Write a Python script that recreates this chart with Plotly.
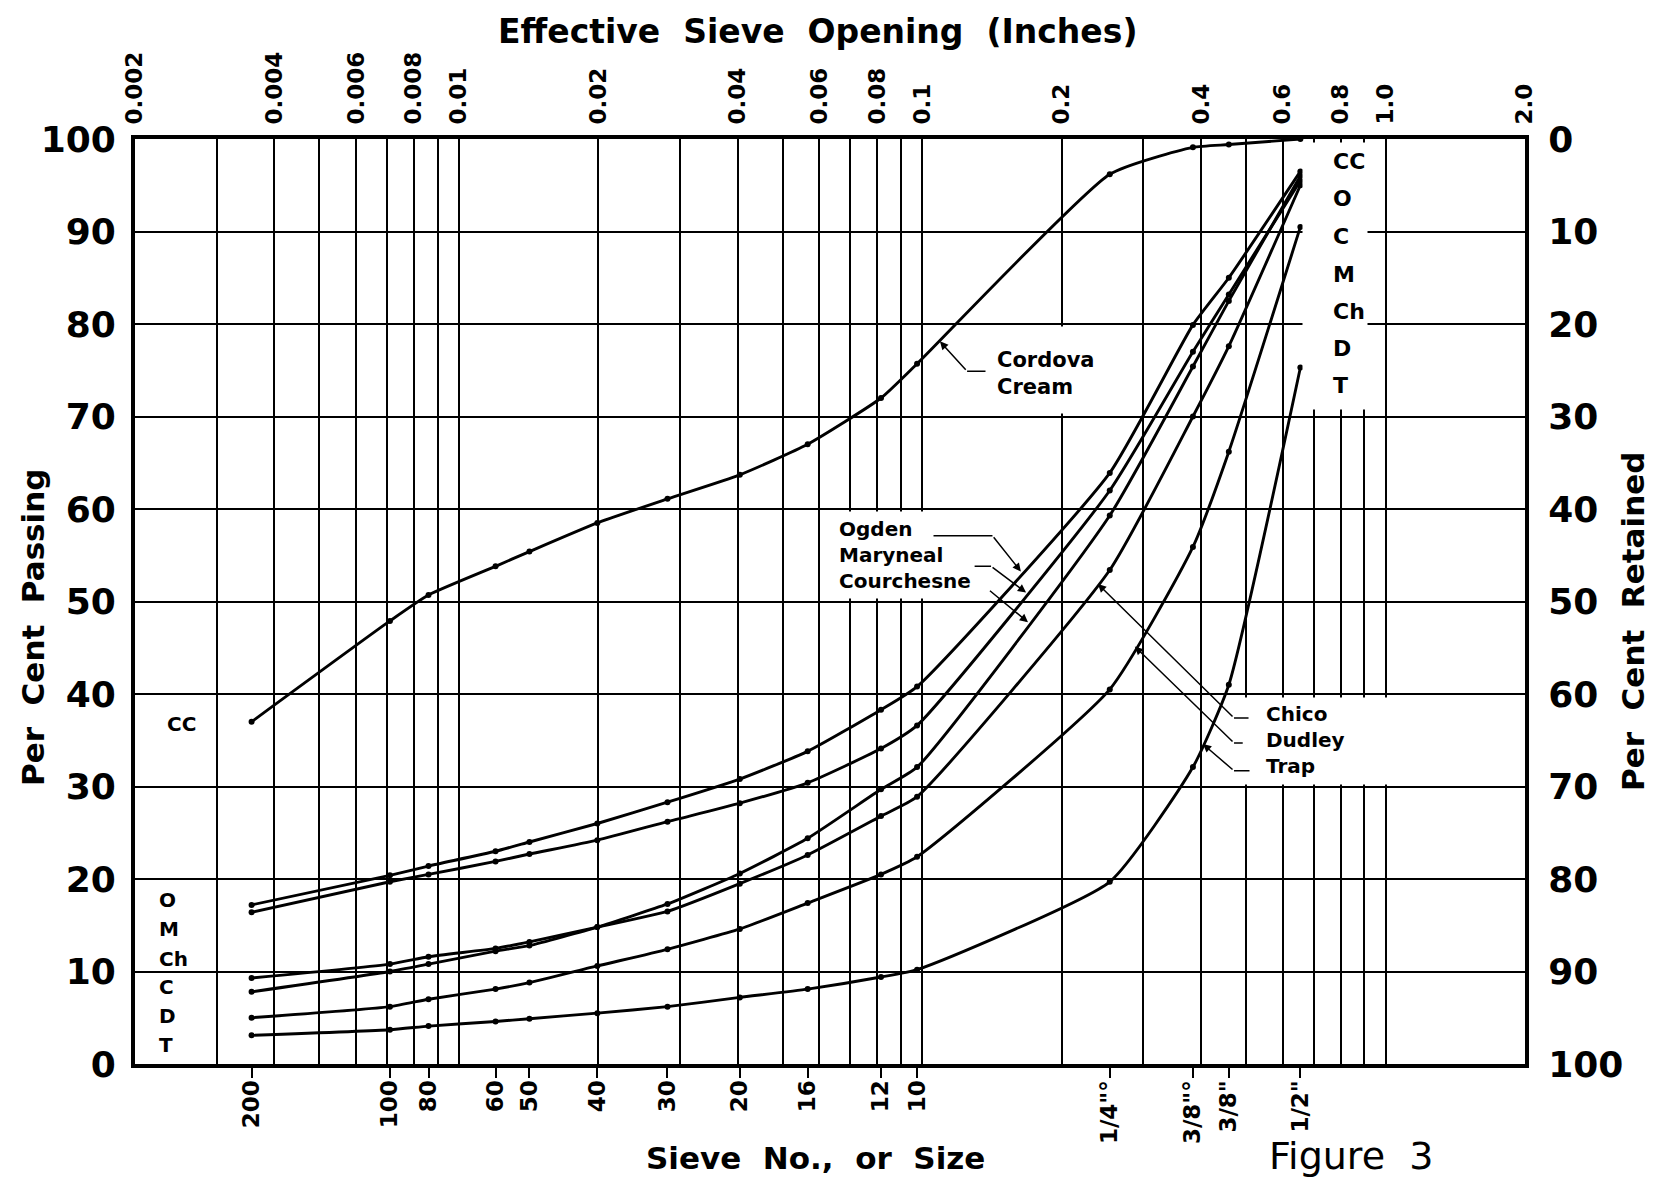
import numpy as np
import plotly.graph_objects as go

# ---------------- data ----------------
# bottom axis: sieve number / size and its effective opening (inches)
sieve_labels = ['200', '100', '80', '60', '50', '40', '30', '20', '16', '12', '10',
                '1/4"°', '3/8"°', '3/8"', '1/2"']
sieve_opening = [0.00357, 0.0071, 0.0086, 0.0120, 0.0142, 0.0199, 0.0282, 0.0404,
                 0.0566, 0.0815, 0.0975, 0.254, 0.384, 0.459, 0.655]

# per cent passing for each material
cordova_cream = [37.0, 47.9, 50.7, 53.8, 55.4, 58.5, 61.1, 63.7, 67.0, 72.0, 75.7, 96.2, 99.1, 99.4, 100.0]
ogden = [17.2, 20.4, 21.4, 23.0, 24.0, 26.0, 28.3, 30.8, 33.8, 38.3, 40.8, 63.9, 79.9, 85.0, 96.5]
maryneal = [16.4, 19.7, 20.5, 21.9, 22.7, 24.2, 26.2, 28.2, 30.4, 34.1, 36.6, 62.0, 77.0, 83.2, 95.5]
courchesne = [7.8, 10.0, 10.8, 12.2, 12.8, 14.8, 17.3, 20.6, 24.4, 29.7, 32.1, 59.3, 75.4, 82.5, 96.0]
chico = [9.3, 10.8, 11.6, 12.5, 13.2, 14.8, 16.5, 19.5, 22.6, 26.8, 28.9, 53.4, 70.0, 77.6, 95.0]
dudley = [5.0, 6.2, 7.0, 8.1, 8.8, 10.6, 12.4, 14.6, 17.4, 20.5, 22.4, 40.5, 55.9, 66.2, 90.5]
trap = [3.1, 3.7, 4.1, 4.6, 4.9, 5.5, 6.2, 7.2, 8.1, 9.4, 10.2, 19.7, 32.1, 41.0, 75.3]

series = [cordova_cream, ogden, maryneal, courchesne, chico, dudley, trap]

# top axis: effective sieve opening (inches)
top_tick_vals = [0.002, 0.004, 0.006, 0.008, 0.01, 0.02, 0.04, 0.06, 0.08, 0.1,
                 0.2, 0.4, 0.6, 0.8, 1.0, 2.0]
top_tick_text = ['0.002', '0.004', '0.006', '0.008', '0.01', '0.02', '0.04', '0.06',
                 '0.08', '0.1', '0.2', '0.4', '0.6', '0.8', '1.0', '2.0']
grid_vals = [0.003, 0.005, 0.007, 0.009, 0.03, 0.05, 0.07, 0.09,
             0.3, 0.5, 0.7, 0.9]

passing_ticks = list(range(0, 101, 10))

# ---------------- figure ----------------
FONT = 'DejaVu Sans'
W, H = 1662, 1179
L, R, T, B = 127, 145, 131, 123
NB = '\u00a0'

fig = go.Figure()

for s in series:
    fig.add_trace(go.Scatter(
        x=sieve_opening, y=s, mode='lines+markers',
        line=dict(color='black', width=2.9, shape='spline', smoothing=0.5),
        marker=dict(color='black', size=6),
        showlegend=False, hoverinfo='skip'))

# invisible helpers so the top and right axes are drawn
fig.add_trace(go.Scatter(x=[0.01], y=[50], xaxis='x2', yaxis='y', mode='markers',
                         marker=dict(opacity=0), showlegend=False, hoverinfo='skip'))
fig.add_trace(go.Scatter(x=[0.01], y=[50], xaxis='x', yaxis='y2', mode='markers',
                         marker=dict(opacity=0), showlegend=False, hoverinfo='skip'))

xr = [np.log10(0.002), np.log10(2.0)]

all_top = sorted(set(top_tick_vals + grid_vals))
top_text_map = dict(zip(top_tick_vals, top_tick_text))
all_top_text = [top_text_map.get(v, '') for v in all_top]

fig.update_layout(
    width=W, height=H,
    margin=dict(l=L, r=R, t=T, b=B, autoexpand=False),
    paper_bgcolor='white', plot_bgcolor='white',
    font=dict(family=FONT, color='black'),
    xaxis=dict(type='log', range=xr, tickmode='array', tickvals=sieve_opening,
               ticktext=sieve_labels, tickangle=-90, ticks='outside', ticklen=10,
               tickwidth=2, tickcolor='black', showgrid=False, zeroline=False,
               showline=True, linewidth=4, linecolor='black', ticklabelstandoff=-7,
               tickfont=dict(size=23, family=FONT, weight='bold')),
    xaxis2=dict(type='log', range=xr, overlaying='x', side='top', anchor='y',
                tickmode='array', tickvals=all_top, ticktext=all_top_text,
                tickangle=-90, ticks='', showgrid=True, gridcolor='black',
                gridwidth=2, zeroline=False, showline=True, linewidth=4,
                linecolor='black', ticklabelstandoff=6,
                tickfont=dict(size=23, family=FONT, weight='bold')),
    yaxis=dict(range=[0, 100], tickmode='array', tickvals=passing_ticks,
               showgrid=True, gridcolor='black', gridwidth=2, zeroline=False,
               showline=True, linewidth=4, linecolor='black', ticks='',
               ticklabelstandoff=8,
               tickfont=dict(size=36, family=FONT, weight='bold')),
    yaxis2=dict(range=[100, 0], overlaying='y', side='right', anchor='x',
                tickmode='array', tickvals=passing_ticks, showgrid=False,
                zeroline=False, showline=True, linewidth=4, linecolor='black',
                ticks='', ticklabelstandoff=12,
                tickfont=dict(size=36, family=FONT, weight='bold')),
)


def lx(v):
    return float(np.log10(v))


def interp(series_vals, xv):
    return float(np.interp(np.log10(xv), np.log10(sieve_opening), series_vals))


ann = []

# white masks behind label blocks (gridlines interrupted in the original)
masks = [  # (x inches, y pct, width px, height px)
    (0.184, 75.0, 110, 86),
    (0.0925, 55.0, 153, 86),
    (0.722, 34.9, 150, 86),
    (0.778, 85.2, 64, 266),
]
for mx, my, mw, mh in masks:
    ann.append(dict(x=lx(mx), y=my, xref='x', yref='y', text=' ', showarrow=False,
                    xanchor='center', yanchor='middle',
                    width=mw, height=mh, bgcolor='white', borderpad=0))

lab_font = dict(family=FONT, size=20, color='black', weight='bold')

# block labels
ann.append(dict(x=lx(0.1436), y=74.6, xref='x', yref='y', text='Cordova<br>Cream',
                showarrow=False, xanchor='left', yanchor='middle', align='left',
                font=dict(family=FONT, size=21, color='black', weight='bold')))
ann.append(dict(x=lx(0.0655), y=55.0, xref='x', yref='y',
                text='Ogden<br>Maryneal<br>Courchesne', showarrow=False,
                xanchor='left', yanchor='middle', align='left', font=lab_font))
ann.append(dict(x=lx(0.547), y=35.0, xref='x', yref='y',
                text='Chico<br>Dudley<br>Trap', showarrow=False,
                xanchor='left', yanchor='middle', align='left', font=lab_font))

# left-end initials
ann.append(dict(x=lx(0.00232), y=36.8, xref='x', yref='y', text='CC', showarrow=False,
                xanchor='left', yanchor='middle', font=lab_font))
left_codes = ['O', 'M', 'Ch', 'C', 'D', 'T']
left_pos = [17.7, 14.6, 11.4, 8.3, 5.2, 2.1]
for c, yv in zip(left_codes, left_pos):
    ann.append(dict(x=lx(0.00223), y=yv, xref='x', yref='y', text=c, showarrow=False,
                    xanchor='left', yanchor='middle', font=lab_font))

# right-end initials
right_codes = ['CC', 'O', 'C', 'M', 'Ch', 'D', 'T']
right_pos = [97.6, 93.6, 89.5, 85.4, 81.3, 77.4, 73.4]
for c, yv in zip(right_codes, right_pos):
    ann.append(dict(x=lx(0.762), y=yv, xref='x', yref='y', text=c, showarrow=False,
                    xanchor='left', yanchor='middle',
                    font=dict(family=FONT, size=22, color='black', weight='bold')))


def seg(x0, y0, x1, y1, head=0):
    return dict(x=lx(x1), y=y1, ax=lx(x0), ay=y0, xref='x', yref='y', axref='x',
                ayref='y', text='', showarrow=True, arrowhead=head, arrowsize=1.1,
                arrowwidth=1.5, arrowcolor='black', standoff=0, startstandoff=0)


# leaders: (start x, bend x, label y, tip x, series)
leaders = [
    (0.138, 0.125, 74.9, 0.1092, cordova_cream),
    (0.105, 0.1418, 57.1, 0.1633, ogden),
    (0.1288, 0.1408, 53.8, 0.1676, maryneal),
    (0.139, 0.139, 51.3, 0.1692, courchesne),
    (0.510, 0.471, 37.4, 0.2395, chico),
    (0.4955, 0.471, 34.7, 0.2877, dudley),
    (0.5125, 0.471, 31.7, 0.4036, trap),
]
for sx, bx, ly, tx, sv in leaders:
    if abs(sx - bx) > 1e-6:
        ann.append(seg(sx, ly, bx, ly, 0))
    ann.append(seg(bx, ly, tx, interp(sv, tx), 2))


# titles (paper coordinates)
def px_x(px):
    return (px - L) / (W - L - R)


def px_y(py):
    return (H - B - py) / (H - T - B)


ann.append(dict(x=px_x(809), y=px_y(23), xref='paper', yref='paper',
                xanchor='center', yanchor='middle',
                text='Effective' + NB + ' Sieve' + NB + ' Opening' + NB + ' (Inches)',
                showarrow=False,
                font=dict(family=FONT, size=33, color='black', weight='bold')))
ann.append(dict(x=px_x(25), y=px_y(620), xref='paper', yref='paper',
                xanchor='center', yanchor='middle',
                text='Per' + NB + ' Cent' + NB + ' Passing',
                showarrow=False, textangle=-90,
                font=dict(family=FONT, size=31, color='black', weight='bold')))
ann.append(dict(x=px_x(1625), y=px_y(614), xref='paper', yref='paper',
                xanchor='center', yanchor='middle',
                text='Per' + NB + ' Cent' + NB + ' Retained',
                showarrow=False, textangle=-90,
                font=dict(family=FONT, size=31, color='black', weight='bold')))
ann.append(dict(x=px_x(807), y=px_y(1150), xref='paper', yref='paper',
                xanchor='center', yanchor='middle',
                text='Sieve' + NB + ' No.,' + NB + ' or' + NB + ' Size',
                showarrow=False,
                font=dict(family=FONT, size=31, color='black', weight='bold')))
ann.append(dict(x=px_x(1343), y=px_y(1148), xref='paper', yref='paper',
                xanchor='center', yanchor='middle',
                text='Figure' + NB + ' 3', showarrow=False,
                font=dict(family=FONT, size=38, color='black')))

fig.update_layout(annotations=ann)

fig.write_html('out.html')
